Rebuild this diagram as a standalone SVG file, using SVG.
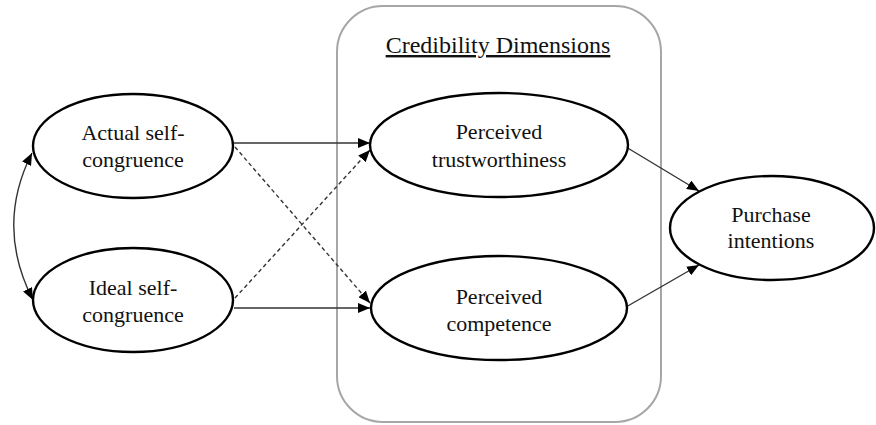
<svg xmlns="http://www.w3.org/2000/svg" width="876" height="425" viewBox="0 0 876 425">
<style>
.node ellipse{fill:#fff;stroke:#000;stroke-width:2.4}
.node text{font-family:"Liberation Serif","Times New Roman",serif;font-size:22px;fill:#111;text-anchor:middle}
.conn line,.conn path{stroke:#333;stroke-width:1.4;fill:none}
.conn .dash{stroke-dasharray:4 3}
.title{font-family:"Liberation Serif","Times New Roman",serif;font-size:24px;fill:#111;text-anchor:middle;text-decoration:underline}
</style>
<defs>
<marker id="ah" viewBox="0 0 12 10" refX="12" refY="5" markerWidth="12" markerHeight="10" markerUnits="userSpaceOnUse" orient="auto-start-reverse">
<path d="M0,0 L12,5 L0,10 Z" fill="#000"/>
</marker>
</defs>
<rect width="876" height="425" fill="#fff"/>
<g id="credibility-box">
<rect x="337" y="6" width="324" height="416" rx="46" ry="46" fill="none" stroke="#a6a6a6" stroke-width="2"/>
<text class="title" x="498" y="53">Credibility Dimensions</text>
</g>
<g class="conn" id="connectors">
<path d="M32,153 Q-5,226 33,300" marker-start="url(#ah)" marker-end="url(#ah)"/>
<line x1="234" y1="143" x2="370" y2="143" marker-end="url(#ah)"/>
<line x1="234" y1="308" x2="370" y2="308" marker-end="url(#ah)"/>
<line class="dash" x1="235" y1="147" x2="370" y2="303" marker-end="url(#ah)"/>
<line class="dash" x1="235" y1="298" x2="370" y2="150" marker-end="url(#ah)"/>
<line x1="626" y1="147" x2="699" y2="191" marker-end="url(#ah)"/>
<line x1="626" y1="307" x2="699" y2="265" marker-end="url(#ah)"/>
</g>
<g class="node" id="actual">
<ellipse cx="133" cy="146" rx="100" ry="52"/>
<text x="133" y="140">Actual self-</text>
<text x="133" y="167">congruence</text>
</g>
<g class="node" id="ideal">
<ellipse cx="133" cy="300" rx="100" ry="52"/>
<text x="133" y="295">Ideal self-</text>
<text x="133" y="322">congruence</text>
</g>
<g class="node" id="trust">
<ellipse cx="499" cy="145" rx="129" ry="52"/>
<text x="499" y="139">Perceived</text>
<text x="499" y="167">trustworthiness</text>
</g>
<g class="node" id="competence">
<ellipse cx="499" cy="308" rx="128" ry="52"/>
<text x="499" y="304">Perceived</text>
<text x="499" y="331">competence</text>
</g>
<g class="node" id="purchase">
<ellipse cx="772" cy="228" rx="102" ry="52"/>
<text x="771" y="222">Purchase</text>
<text x="771" y="248">intentions</text>
</g>
</svg>
